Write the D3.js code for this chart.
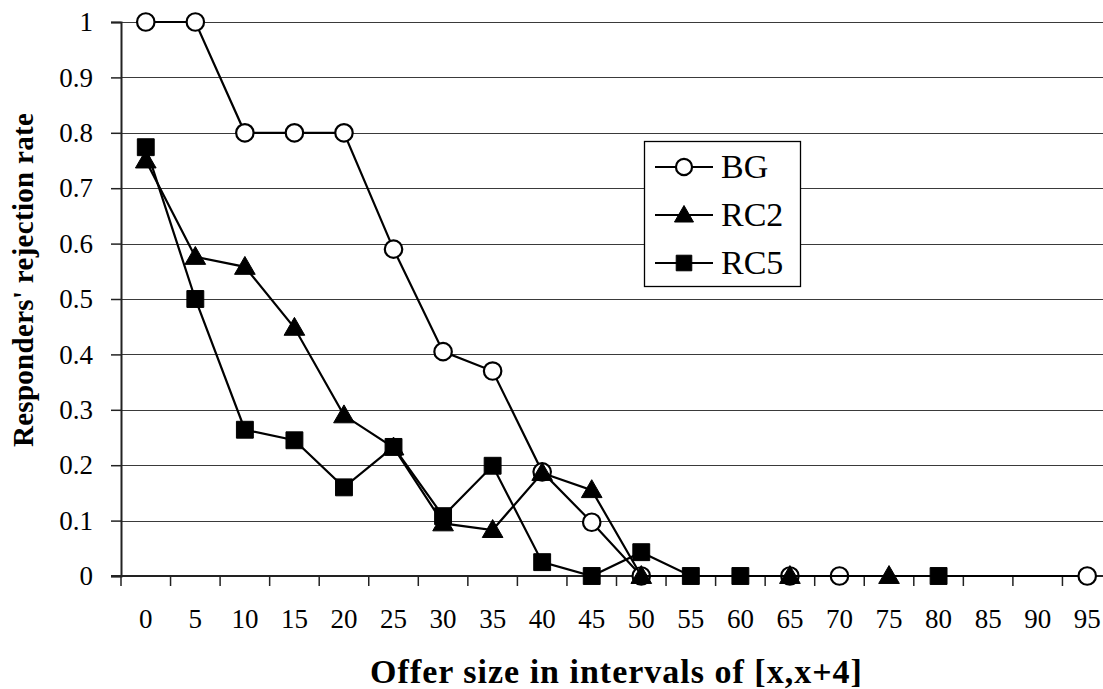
<!DOCTYPE html>
<html>
<head>
<meta charset="utf-8">
<script src="https://cdn.jsdelivr.net/npm/d3@7"></script>
<style>
	body { margin: 0; background: #fff; }
	svg { display: block; font-family: "Liberation Serif", "Times New Roman", serif; }
</style>
</head>
<body>
<div id="chart"></div>
<script>
const offers = ['0','5','10','15','20','25','30','35','40','45','50','55','60','65','70','75','80','85','90','95'];
const bgRate  = [1, 1, 0.8, 0.8, 0.8, 0.59, 0.405, 0.37, 0.188, 0.097, 0, null, null, 0, 0, null, null, null, null, 0];
const rc2Rate = [0.75, 0.576, 0.558, 0.448, 0.29, 0.232, 0.095, 0.083, 0.186, 0.155, 0, null, null, 0, null, 0, null, null, null, null];
const rc5Rate = [0.774, 0.5, 0.264, 0.245, 0.16, 0.233, 0.108, 0.199, 0.025, 0, 0.043, 0, 0, null, null, null, 0, null, null, null];
const yTicks  = [0, 0.1, 0.2, 0.3, 0.4, 0.5, 0.6, 0.7, 0.8, 0.9, 1];

const seriesList = [
	{ name: 'BG',  values: bgRate,  symbol: d3.symbolCircle,   size: 240, fill: '#fff' },
	{ name: 'RC2', values: rc2Rate, symbol: d3.symbolTriangle, size: 185, fill: '#000' },
	{ name: 'RC5', values: rc5Rate, symbol: d3.symbolSquare,   size: 285, fill: '#000' }
];

const width = 1103, height = 689;
const plotLeft = 121, plotRight = 1112, plotTop = 22, plotBottom = 576;

const svg = d3.select('#chart')
	.append('svg')
		.attr('width', width)
		.attr('height', height);

const x = d3.scaleBand()
	.domain(offers)
	.range([plotLeft, plotRight]);
const y = d3.scaleLinear()
	.domain([0, 1])
	.range([plotBottom, plotTop]);
const cx = d => x(d) + x.bandwidth() / 2;

// gridlines
svg.append('g')
	.selectAll('line')
		.data(yTicks.filter(t => t > 0))
	.enter().append('line')
		.attr('x1', plotLeft).attr('x2', width)
		.attr('y1', d => Math.round(y(d)) + 0.5)
		.attr('y2', d => Math.round(y(d)) + 0.5)
		.attr('stroke', '#3a3a3a')
		.attr('stroke-width', 1.2);

// y axis
const yAxis = svg.append('g')
	.attr('transform', 'translate(' + plotLeft + ',0)')
	.call(d3.axisLeft(y).tickValues(yTicks).tickSize(10).tickPadding(18).tickFormat(d3.format('')));
yAxis.attr('font-family', null);
yAxis.select('.domain').attr('stroke', '#222').attr('stroke-width', 2);
yAxis.selectAll('.tick line').attr('stroke', '#222').attr('stroke-width', 1.5);
yAxis.selectAll('text')
	.attr('font-family', '"Liberation Serif", serif')
	.attr('font-size', 27)
	.attr('fill', '#000');

// x axis, ticks on band edges
const xAxis = svg.append('g')
	.attr('transform', 'translate(0,' + plotBottom + ')');
xAxis.append('line')
	.attr('x1', plotLeft - 10).attr('x2', width)
	.attr('y1', 0).attr('y2', 0)
	.attr('stroke', '#222').attr('stroke-width', 2);
xAxis.selectAll('line.tk')
		.data(offers)
	.enter().append('line')
		.attr('class', 'tk')
		.attr('x1', d => x(d)).attr('x2', d => x(d))
		.attr('y1', 0).attr('y2', 10)
		.attr('stroke', '#222').attr('stroke-width', 1.5);
xAxis.selectAll('text')
		.data(offers)
	.enter().append('text')
		.attr('x', d => cx(d))
		.attr('y', 52)
		.attr('text-anchor', 'middle')
		.attr('font-family', '"Liberation Serif", serif')
		.attr('font-size', 27)
		.text(d => d);

// series
const line = d3.line()
	.x(d => cx(d.k))
	.y(d => y(d.v));

seriesList.forEach(s => {
	const pts = offers.map((k, i) => ({ k: k, v: s.values[i] })).filter(d => d.v !== null);
	svg.append('path')
		.datum(pts)
		.attr('fill', 'none')
		.attr('stroke', '#000')
		.attr('stroke-width', 2.2)
		.attr('d', line);
	svg.append('g')
		.selectAll('path')
			.data(pts)
		.enter().append('path')
			.attr('transform', d => 'translate(' + cx(d.k) + ',' + (y(d.v) + (s.symbol === d3.symbolTriangle ? 1.5 : 0)) + ')')
			.attr('d', d3.symbol().type(s.symbol).size(s.size))
			.attr('fill', s.fill)
			.attr('stroke', '#000')
			.attr('stroke-width', s.symbol === d3.symbolCircle ? 2.2 : 1);
});

// legend
const lg = svg.append('g')
	.attr('transform', 'translate(644,141)');
lg.append('rect')
	.attr('x', 0.5).attr('y', 0.5)
	.attr('width', 156).attr('height', 145)
	.attr('fill', '#fff')
	.attr('stroke', '#000')
	.attr('stroke-width', 1.3);
const item = lg.selectAll('g.item')
		.data(seriesList)
	.enter().append('g')
		.attr('class', 'item')
		.attr('transform', (d, i) => 'translate(0,' + (26 + i * 48) + ')');
item.append('line')
	.attr('x1', 11).attr('x2', 69)
	.attr('stroke', '#000').attr('stroke-width', 2.2);
item.append('path')
	.attr('transform', d => 'translate(40,' + (d.symbol === d3.symbolTriangle ? 1.5 : 0) + ')')
	.attr('d', d => d3.symbol().type(d.symbol).size(d.size * 0.85)())
	.attr('fill', d => d.fill)
	.attr('stroke', '#000')
	.attr('stroke-width', d => d.symbol === d3.symbolCircle ? 2.2 : 1);
item.append('text')
	.attr('x', 77)
	.attr('y', 11)
	.attr('font-size', 34)
	.text(d => d.name);

// axis titles
svg.append('text')
	.attr('x', (plotLeft + plotRight) / 2)
	.attr('y', 683)
	.attr('text-anchor', 'middle')
	.attr('font-weight', 'bold')
	.attr('font-size', 34)
	.attr('letter-spacing', 1)
	.text('Offer size in intervals of [x,x+4]');

svg.append('text')
	.attr('transform', 'translate(33,280) rotate(-90)')
	.attr('text-anchor', 'middle')
	.attr('font-weight', 'bold')
	.attr('font-size', 29)
	.attr('letter-spacing', 0.3)
	.text("Responders' rejection rate");
</script>
</body>
</html>
